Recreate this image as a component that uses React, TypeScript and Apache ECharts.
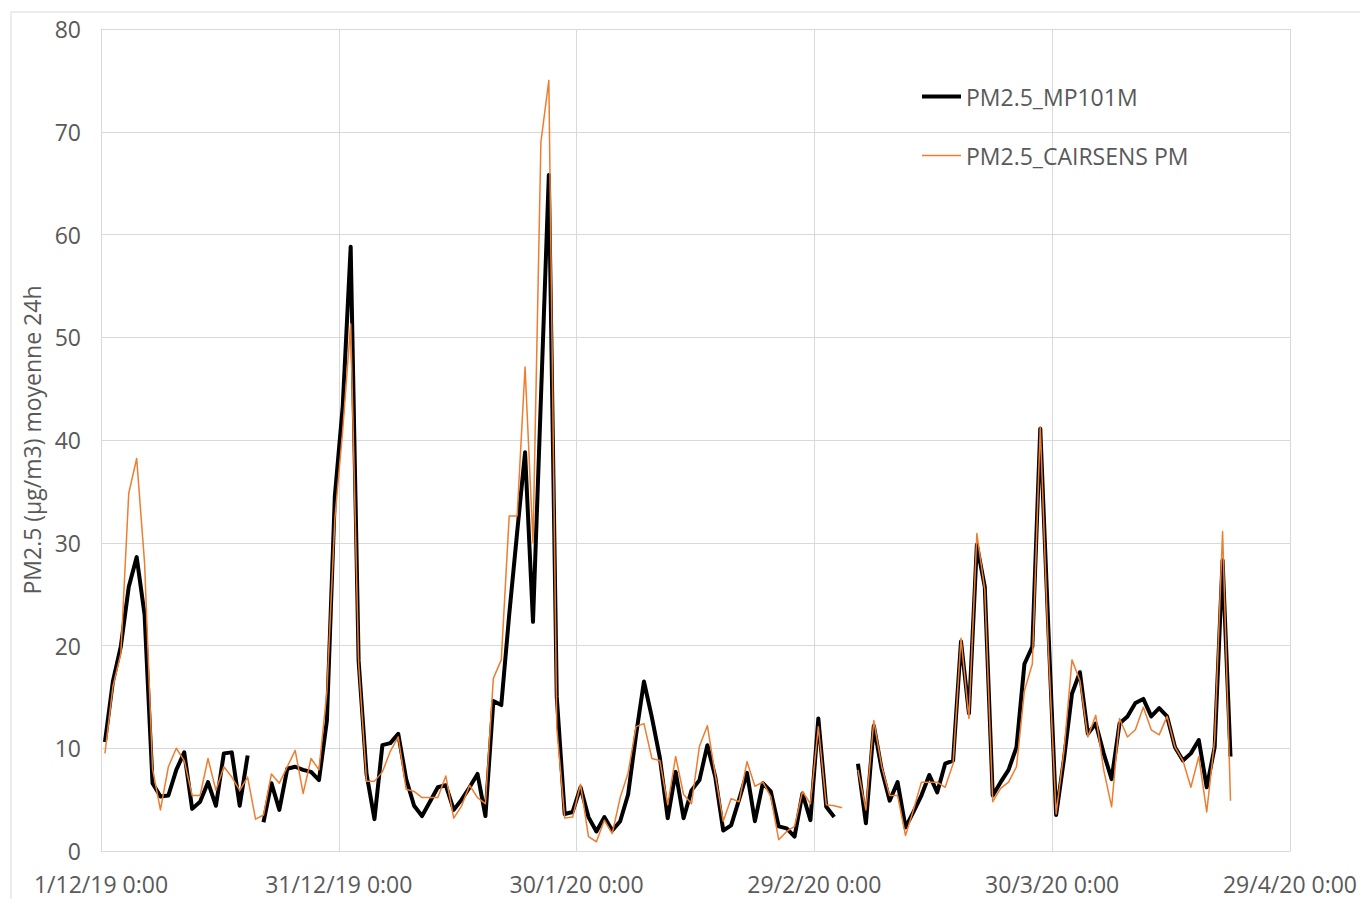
import React, { useEffect, useRef } from "react";
import * as echarts from "echarts";

// Daily 24h averages, 1/12/19 .. 21/4/20 (null = missing day)
const mp101m: (number | null)[] = [
  10.6, 16.5, 19.9, 25.7, 28.6, 23, 6.6, 5.3, 5.4, 7.9,
  9.6, 4.1, 4.8, 6.7, 4.4, 9.5, 9.6, 4.4, 9.3, null,
  2.8, 6.6, 4.0, 8.0, 8.2, 7.9, 7.7, 6.9, 12.7, 34.5,
  43.3, 58.8, 18.5, 7.5, 3.1, 10.3, 10.5, 11.4, 7.0, 4.4,
  3.4, 4.8, 6.2, 6.4, 4.0, 5.0, 6.2, 7.5, 3.4, 14.6,
  14.2, 23, 31, 38.8, 22.3, 44, 65.8, 15, 3.6, 3.8,
  6.2, 3.3, 1.9, 3.3, 2.0, 2.9, 5.5, 11.3, 16.5, 13.0,
  9.1, 3.2, 7.7, 3.2, 5.9, 6.9, 10.3, 7.2, 2.0, 2.5,
  5.0, 7.6, 2.9, 6.6, 5.8, 2.4, 2.2, 1.4, 5.6, 3.0,
  12.9, 4.3, 3.3, null, null, 8.5, 2.7, 12.2, 7.9, 4.9,
  6.7, 2.3, 3.8, 5.4, 7.4, 5.7, 8.5, 8.8, 20.4, 13.4,
  29.8, 25.7, 5.4, 6.7, 7.9, 10.1, 18.2, 19.9, 41.1, 22,
  3.5, 9.0, 15.3, 17.4, 11.4, 12.4, 9.5, 7.0, 12.4, 13.1,
  14.4, 14.8, 13.1, 13.9, 13.1, 10.1, 8.8, 9.5, 10.8, 6.2,
  10.1, 28.3, 9.2,
];

const cairsens: (number | null)[] = [
  9.5, 16, 19.2, 34.8, 38.2, 28, 8.0, 4.0, 8.2, 10.0,
  8.8, 5.4, 5.4, 9.0, 5.9, 8.2, 7.2, 5.9, 7.2, 3.1,
  3.5, 7.5, 6.6, 8.2, 9.8, 5.6, 9.0, 7.9, 15.5, 32.3,
  41, 51.3, 18.3, 6.8, 6.8, 7.7, 9.7, 11.1, 6.0, 5.8,
  5.2, 5.2, 5.2, 7.3, 3.2, 4.4, 6.4, 5.2, 4.6, 16.8,
  18.6, 32.6, 32.6, 47.1, 30, 69, 75, 12, 3.2, 3.3,
  6.5, 1.4, 0.9, 3.0, 1.7, 5.2, 7.6, 12.1, 12.4, 9.0,
  8.8, 4.5, 9.2, 5.5, 4.6, 10.2, 12.2, 7.4, 2.9, 5.1,
  4.8, 8.7, 6.3, 6.7, 5.3, 1.1, 1.9, 2.4, 5.8, 4.6,
  12.1, 4.5, 4.4, 4.2, null, 7.9, 4.0, 12.7, 8.2, 5.4,
  5.4, 1.5, 4.0, 6.7, 6.7, 6.7, 6.2, 8.5, 20.7, 12.9,
  30.9, 25.4, 4.8, 6.1, 6.7, 8.2, 15.6, 18.2, 41.3, 20,
  3.6, 9.8, 18.6, 16.6, 11.1, 13.2, 7.9, 4.3, 12.9, 11.1,
  11.8, 14.0, 11.8, 11.3, 13.1, 10.1, 8.8, 6.2, 9.2, 3.8,
  10.8, 31.1, 4.9,
];

const seriesNames = ["PM2.5_MP101M", "PM2.5_CAIRSENS PM"];
const seriesColors = ["#000000", "#ED7D31"];
const xTickLabels = [
  "1/12/19 0:00",
  "31/12/19 0:00",
  "30/1/20 0:00",
  "29/2/20 0:00",
  "30/3/20 0:00",
  "29/4/20 0:00",
];
const yAxisName = "PM2.5 (µg/m3) moyenne 24h";

// days since 1/12/19 0:00; daily values plotted at mid-day
const toPoints = (vals: (number | null)[]) =>
  vals.map((v, i) => [i + 0.5, v === null ? "-" : v]);

export default function App() {
  const ref = useRef<HTMLDivElement>(null);
  useEffect(() => {
    if (!ref.current) return;
    const chart = echarts.init(ref.current, null, { renderer: "svg" });
    const font = "'Open Sans', 'Noto Sans', sans-serif";
    const fs = 23;
    const legendText = { color: "#595959", fontSize: fs, fontFamily: font };
    chart.setOption({
      animation: false,
      backgroundColor: "#ffffff",
      textStyle: { fontFamily: font },
      graphic: [
        {
          type: "rect",
          shape: { x: 11, y: 12, width: 1400, height: 1000 },
          style: { fill: "none", stroke: "#d9d9d9", lineWidth: 1 },
          silent: true,
        },
      ],
      grid: { left: 101, right: 70, top: 29, bottom: 48, containLabel: false },
      legend: [
        {
          left: 917,
          top: 80,
          itemWidth: 39,
          itemHeight: 4,
          itemGap: 4,
          icon: "rect",
          data: [seriesNames[0]],
          textStyle: legendText,
        },
        {
          left: 917,
          top: 139,
          itemWidth: 39,
          itemHeight: 1.5,
          itemGap: 4,
          icon: "rect",
          data: [seriesNames[1]],
          textStyle: legendText,
        },
      ],
      xAxis: {
        type: "value",
        min: 0,
        max: 150,
        interval: 30,
        axisLine: { show: true, lineStyle: { color: "#d9d9d9", width: 1 } },
        axisTick: { show: false },
        splitLine: { show: true, lineStyle: { color: "#d9d9d9", width: 1 } },
        axisLabel: {
          color: "#595959",
          fontSize: fs,
          fontFamily: font,
          margin: 21,
          showMinLabel: true,
          showMaxLabel: true,
          hideOverlap: false,
          formatter: (v: number) => xTickLabels[Math.round(v / 30)] ?? "",
        },
      },
      yAxis: {
        type: "value",
        min: 0,
        max: 80,
        interval: 10,
        name: yAxisName,
        nameLocation: "middle",
        nameRotate: 90,
        nameGap: 58,
        nameTextStyle: { color: "#595959", fontSize: fs, fontFamily: font },
        axisLine: { show: true, lineStyle: { color: "#d9d9d9", width: 1 } },
        axisTick: { show: false },
        splitLine: { show: true, lineStyle: { color: "#d9d9d9", width: 1 } },
        axisLabel: { color: "#595959", fontSize: fs, fontFamily: font, margin: 20 },
      },
      series: [
        {
          name: seriesNames[0],
          type: "line",
          data: toPoints(mp101m),
          showSymbol: false,
          symbol: "none",
          connectNulls: false,
          lineStyle: { color: seriesColors[0], width: 4, join: "round" },
          itemStyle: { color: seriesColors[0] },
          z: 2,
        },
        {
          name: seriesNames[1],
          type: "line",
          data: toPoints(cairsens),
          showSymbol: false,
          symbol: "none",
          connectNulls: false,
          lineStyle: { color: seriesColors[1], width: 1.5, join: "round" },
          itemStyle: { color: seriesColors[1] },
          z: 3,
        },
      ],
    });
    return () => chart.dispose();
  }, []);
  return (
    <div
      ref={ref}
      style={{ position: "fixed", left: 0, top: 0, width: 1360, height: 899 }}
    />
  );
}
